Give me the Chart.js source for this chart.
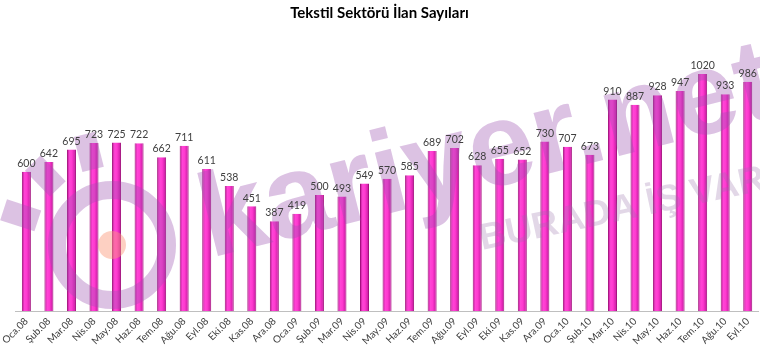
<!DOCTYPE html>
<html>
<head>
<meta charset="utf-8">
<title>Tekstil Sektörü İlan Sayıları</title>
<script src="https://cdn.jsdelivr.net/npm/chart.js@4.4.1/dist/chart.umd.min.js"></script>
<style>
  html, body { margin: 0; padding: 0; background: #ffffff; }
  #wrap { position: relative; width: 760px; height: 353px; }
</style>
</head>
<body>
<div id="wrap"><canvas id="ilanChart" width="760" height="353"></canvas></div>
<script>
/* Tekstil Sektörü — monthly job-ad counts */
var MONTHS = [
  "Oca.08", "Şub.08", "Mar.08", "Nis.08", "May.08", "Haz.08", "Tem.08", "Ağu.08", "Eyl.08", "Eki.08", "Kas.08", "Ara.08",
  "Oca.09", "Şub.09", "Mar.09", "Nis.09", "May.09", "Haz.09", "Tem.09", "Ağu.09", "Eyl.09", "Eki.09", "Kas.09", "Ara.09",
  "Oca.10", "Şub.10", "Mar.10", "Nis.10", "May.10", "Haz.10", "Tem.10", "Ağu.10", "Eyl.10"
];
var ILAN = [
  600, 642, 695, 723, 725, 722, 662, 711, 611, 538, 451, 387,
  419, 500, 493, 549, 570, 585, 689, 702, 628, 655, 652, 730,
  707, 673, 910, 887, 928, 947, 1020, 933, 986
];
var Y_MAX = 1200;
var TITLE = "Tekstil Sektörü İlan Sayıları";
var WATERMARK = "kariyer.net";
var SLOGAN = "BURADA İŞ VAR";

document.addEventListener("DOMContentLoaded", function () {
  "use strict";

  var BAR_PCT = 0.4;

  /* cylinder-ish shading across each bar */
  function barFill(c) {
    var chart = c.chart, xs = chart.scales.x;
    if (!xs || c.dataIndex === undefined) return "#ff33cc";
    var cx = xs.getPixelForValue(c.dataIndex);
    var w = xs.width / MONTHS.length * BAR_PCT;
    if (!isFinite(cx) || !isFinite(w) || w <= 0) return "#ff33cc";
    var g = chart.ctx.createLinearGradient(cx - w / 2, 0, cx + w / 2, 0);
    g.addColorStop(0, "#b3128c");
    g.addColorStop(0.3, "#ff45d6");
    g.addColorStop(0.55, "#ff3ad0");
    g.addColorStop(1, "#c0159b");
    return g;
  }

  /* background logo + value labels */
  var overlay = {
    id: "overlay",
    afterDatasetsDraw: function (chart) {
      var ctx = chart.ctx;
      ctx.save();

      /* logo ring, dot and rays */
      var cx = 112, cy = 245;
      ctx.strokeStyle = "rgba(154,80,176,0.35)";
      ctx.lineWidth = 18;
      ctx.beginPath();
      ctx.arc(cx, cy, 55, 0, Math.PI * 2);
      ctx.stroke();
      ctx.fillStyle = "rgba(250,150,120,0.45)";
      ctx.beginPath();
      ctx.arc(cx, cy, 14, 0, Math.PI * 2);
      ctx.fill();
      ctx.fillStyle = "rgba(154,80,176,0.35)";
      [198, 226, 256].forEach(function (deg) {
        var a = deg * Math.PI / 180;
        ctx.save();
        ctx.translate(cx + Math.cos(a) * 96, cy + Math.sin(a) * 96);
        ctx.rotate(a);
        ctx.fillRect(-18, -11, 36, 22);
        ctx.restore();
      });

      /* kariyer.net */
      ctx.save();
      ctx.translate(210, 258);
      ctx.rotate(-14 * Math.PI / 180);
      ctx.font = "bold 118px 'Liberation Sans', Arial, sans-serif";
      ctx.textBaseline = "alphabetic";
      ctx.textAlign = "left";
      ctx.fillStyle = "rgba(154,80,176,0.35)";
      ctx.fillText(WATERMARK, 0, 0);
      ctx.restore();

      /* BURADA İŞ VAR */
      ctx.save();
      ctx.translate(482, 250);
      ctx.rotate(-12 * Math.PI / 180);
      ctx.font = "bold 37px 'Liberation Sans', Arial, sans-serif";
      ctx.textAlign = "left";
      ctx.fillStyle = "rgba(150,110,170,0.28)";
      ctx.fillText(SLOGAN, 0, 0);
      ctx.restore();

      /* values above bars */
      var meta = chart.getDatasetMeta(0);
      ctx.font = "10.5px Lato, 'Open Sans', sans-serif";
      ctx.fillStyle = "#404040";
      ctx.textAlign = "center";
      ctx.textBaseline = "bottom";
      meta.data.forEach(function (bar, i) {
        ctx.fillText(String(ILAN[i]), bar.x, bar.y - 3);
      });
      ctx.restore();
    }
  };

  new Chart(document.getElementById("ilanChart"), {
    type: "bar",
    data: {
      labels: MONTHS,
      datasets: [{
        label: "İlan Sayısı",
        data: ILAN,
        backgroundColor: barFill,
        borderColor: "#a5107f",
        borderWidth: { left: 1, right: 1, top: 0, bottom: 0 },
        barPercentage: BAR_PCT,
        categoryPercentage: 1,
      }],
    },
    options: {
      responsive: false,
      animation: false,
      layout: { padding: { left: 0, right: 1, top: 0, bottom: 2 } },
      plugins: {
        legend: { display: false },
        tooltip: { enabled: false },
        title: {
          display: true,
          text: TITLE,
          color: "#000000",
          font: { family: "Lato, 'Open Sans', sans-serif", size: 15, weight: "bold" },
          padding: { top: 4, bottom: 10 },
        },
      },
      scales: {
        x: {
          grid: { display: false, drawTicks: false },
          border: { display: true, color: "#bfbfbf", width: 1 },
          ticks: {
            autoSkip: false,
            minRotation: 45,
            maxRotation: 45,
            padding: 4,
            color: "#404040",
            font: { family: "Lato, 'Open Sans', sans-serif", size: 10 },
          },
        },
        y: {
          display: false,
          min: 0,
          max: Y_MAX,
        },
      },
    },
    plugins: [overlay],
  });
});
</script>
</body>
</html>
